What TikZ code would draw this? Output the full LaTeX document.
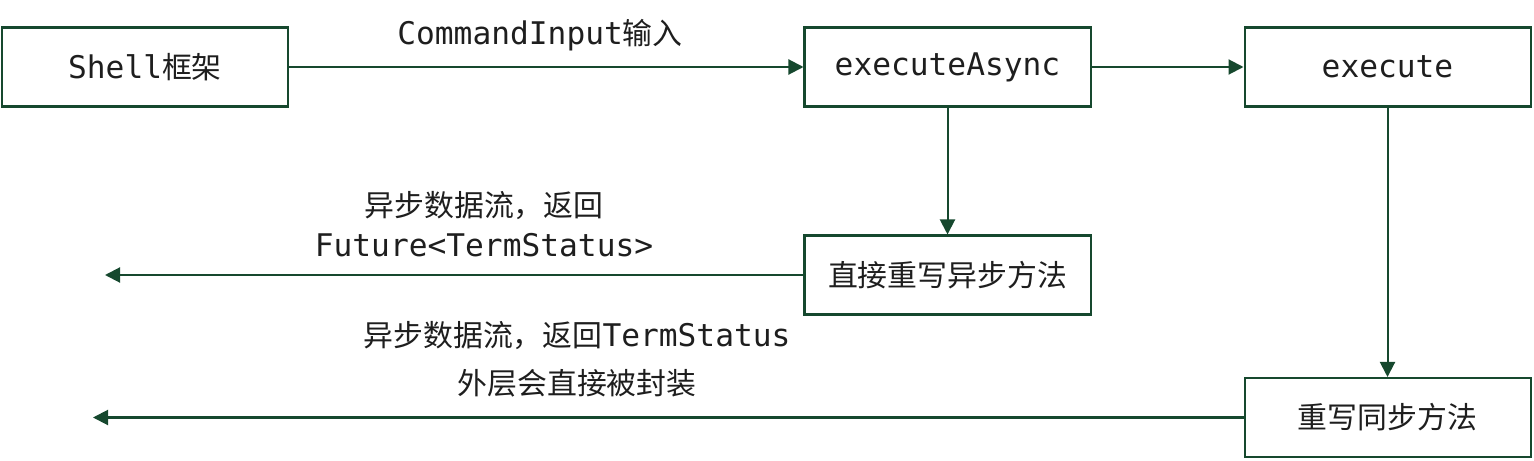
\documentclass[tikz,border=0pt]{standalone}
\usepackage{fontspec}
\setmainfont{DejaVu Sans Mono}[Scale=1.045]
\newfontfamily\cjk{Noto Sans CJK SC}
\usetikzlibrary{arrows.meta}
\definecolor{flowgreen}{RGB}{22,72,46}
\definecolor{inktext}{RGB}{30,30,30}
\tikzset{
  stagebox/.style={draw=flowgreen, line width=1.15pt, minimum width=5.72cm, minimum height=1.58cm, inner sep=0pt},
  flowline/.style={draw=flowgreen, line width=1.15pt},
}
\begin{document}
\begin{tikzpicture}[>={Triangle[length=0.3cm,width=0.3cm]}, font=\fontsize{17}{22.8}\selectfont, text=inktext]
\useasboundingbox (0,0) rectangle (30.68,9.2);

\node [stagebox] (shell)  at (2.90,7.86) {Shell{\cjk 框架}};

\node [stagebox] (async)  at (18.95,7.86) {executeAsync};

\node [stagebox] (exec)  at (27.75,7.86) {execute};

\node [stagebox] (direct)  at (18.95,3.70) {\cjk 直接重写异步方法};

\node [stagebox] (sync)  at (27.75,0.85) {\cjk 重写同步方法};

\coordinate (out1) at (2.10,3.70);
\coordinate (out2) at (1.86,0.85);

\node [] (cmd)  at (10.80,8.50) {CommandInput{\cjk 输入}};

\node [align=center] (ret1)  at (9.68,4.71) {{\cjk 异步数据流，返回}\\Future<TermStatus>};

\node [align=center] (ret2)  at (11.54,2.02) {{\cjk 异步数据流，返回}TermStatus\\[4.5pt]{\cjk 外层会直接被封装}};

\draw [->, flowline] (shell) -- (async);

\draw [->, flowline] (async) -- (exec);

\draw [->, flowline] (async) -- (direct);

\draw [->, flowline] (exec) -- (sync);

\draw [->, flowline] (direct) -- (out1);

\draw [->, flowline] (sync) -- (out2);

\end{tikzpicture}
\end{document}
